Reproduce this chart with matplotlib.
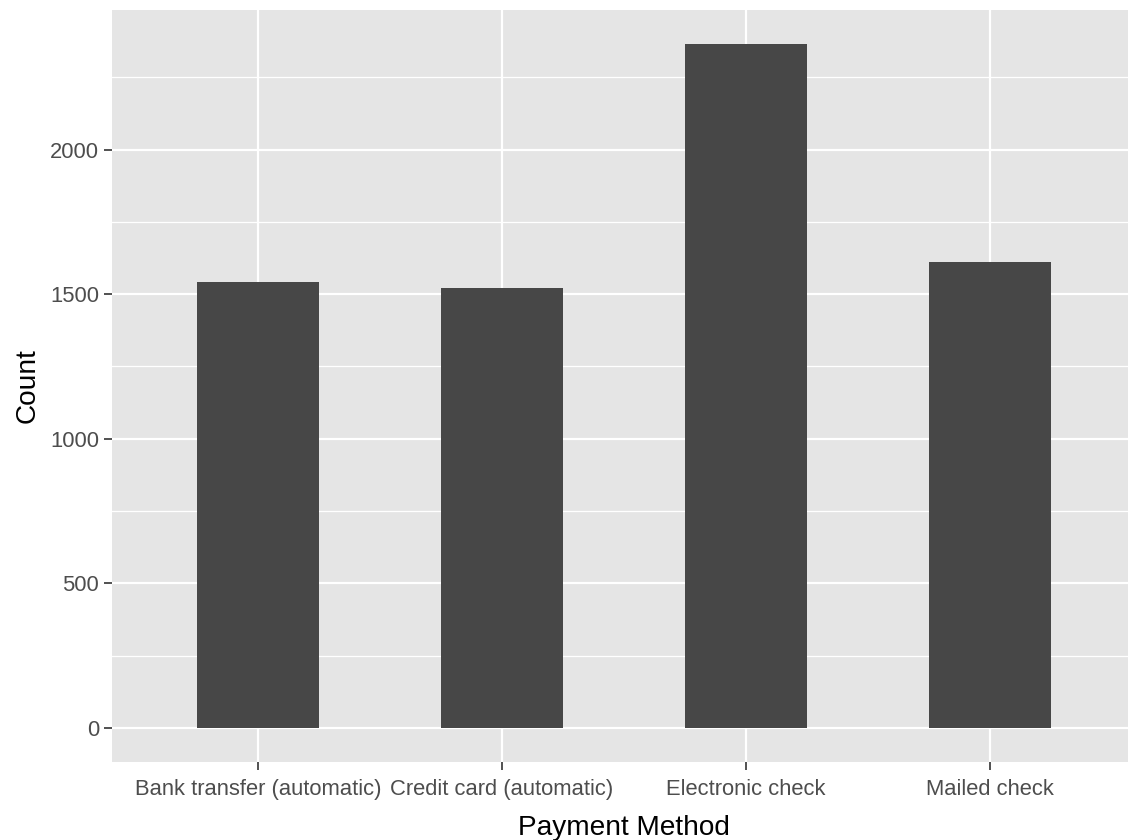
import matplotlib
matplotlib.use("Agg")
import matplotlib.pyplot as plt
from matplotlib.ticker import MultipleLocator

methods = ["Bank transfer (automatic)", "Credit card (automatic)",
           "Electronic check", "Mailed check"]
counts = [1544, 1522, 2365, 1612]
y_ticks = [0, 500, 1000, 1500, 2000]

plt.rcParams['font.family'] = ['Liberation Sans', 'DejaVu Sans']

W, H = 1128, 840
fig = plt.figure(figsize=(W / 100, H / 100), dpi=100)
left, right, top, bottom = 111.5, 1136.6, 10, 762
ax = fig.add_axes([left / W, 1 - bottom / H, (right - left) / W, (bottom - top) / H])

panel = "#E5E5E5"
ax.set_facecolor(panel)
for s in ax.spines.values():
    s.set_visible(False)

pos = list(range(1, len(methods) + 1))
ax.bar(pos, counts, width=0.5, color="#474747", zorder=3)

ymax = max(counts)
ax.set_ylim(-0.05 * ymax, 1.05 * ymax)
ax.set_xlim(0.4, len(methods) + 0.6)

ax.set_yticks(y_ticks)
ax.yaxis.set_minor_locator(MultipleLocator(250))
ax.set_xticks(pos)
ax.set_xticklabels(methods)

ax.grid(which="major", color="white", linewidth=1.6, zorder=1)
ax.grid(which="minor", axis="y", color="white", linewidth=0.9, zorder=1)
ax.set_axisbelow(True)

ax.tick_params(axis="both", which="major", length=5.8, width=1.2, color="#333333",
               labelsize=15.8, labelcolor="#4D4D4D")
ax.tick_params(axis="x", which="major", pad=6.5)
ax.tick_params(axis="y", which="major", pad=3)
ax.tick_params(axis="y", which="minor", length=0)

ax.set_xlabel("Payment Method", fontsize=20.2, color="black", labelpad=10.5)
ax.set_ylabel("Count", fontsize=20.2, color="black", labelpad=7)

fig.savefig("out.png", dpi=100)
